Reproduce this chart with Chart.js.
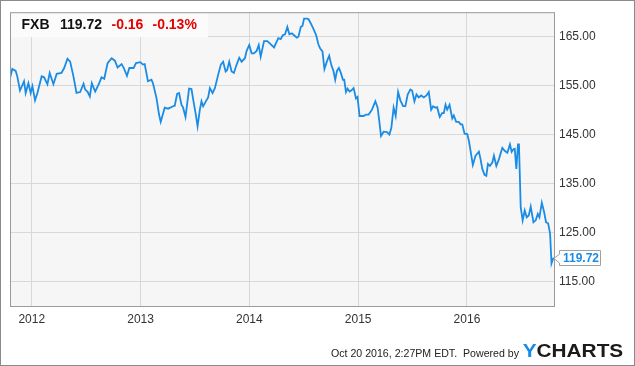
<!DOCTYPE html>
<html><head><meta charset="utf-8">
<script src="https://cdn.jsdelivr.net/npm/chart.js@4"></script>
<style>html,body{margin:0;padding:0;background:#fff;}canvas{display:block;}</style>
</head><body>
<canvas id="c" width="635" height="366"></canvas>
<script>
// Time in decimal years (Oct 20 2011 .. Oct 20 2016)
const dates = [
2011.800,2011.821,2011.852,2011.867,2011.892,2011.929,2011.944,2011.969,2011.990,2012.006,
2012.030,2012.052,2012.091,2012.113,2012.144,2012.165,2012.199,2012.229,2012.273,2012.298,
2012.328,2012.353,2012.383,2012.411,2012.445,2012.476,2012.491,2012.512,2012.534,2012.552,
2012.583,2012.620,2012.641,2012.666,2012.697,2012.734,2012.764,2012.789,2012.826,2012.844,
2012.875,2012.897,2012.936,2012.958,2012.998,2013.022,2013.038,2013.068,2013.100,2013.114,
2013.146,2013.170,2013.185,2013.222,2013.253,2013.299,2013.314,2013.336,2013.354,2013.376,
2013.391,2013.413,2013.446,2013.468,2013.489,2013.508,2013.524,2013.545,2013.560,2013.575,
2013.600,2013.621,2013.637,2013.662,2013.683,2013.713,2013.738,2013.759,2013.782,2013.796,
2013.815,2013.837,2013.858,2013.883,2013.907,2013.929,2013.959,2013.975,2013.999,2014.021,
2014.042,2014.067,2014.086,2014.104,2014.135,2014.165,2014.190,2014.227,2014.266,2014.288,
2014.307,2014.328,2014.349,2014.368,2014.390,2014.411,2014.436,2014.451,2014.473,2014.488,
2014.503,2014.528,2014.543,2014.565,2014.589,2014.614,2014.635,2014.651,2014.672,2014.690,
2014.712,2014.734,2014.752,2014.773,2014.789,2014.805,2014.823,2014.841,2014.860,2014.872,
2014.888,2014.902,2014.921,2014.936,2014.958,2014.980,2014.994,2015.013,2015.050,2015.072,
2015.096,2015.127,2015.158,2015.179,2015.194,2015.210,2015.234,2015.265,2015.287,2015.305,
2015.326,2015.345,2015.367,2015.388,2015.413,2015.434,2015.455,2015.480,2015.496,2015.517,
2015.536,2015.557,2015.579,2015.603,2015.628,2015.649,2015.671,2015.689,2015.711,2015.726,
2015.750,2015.772,2015.787,2015.803,2015.818,2015.840,2015.865,2015.879,2015.901,2015.925,
2015.941,2015.957,2015.978,2016.003,2016.018,2016.033,2016.054,2016.079,2016.110,2016.125,
2016.141,2016.162,2016.178,2016.193,2016.211,2016.233,2016.248,2016.270,2016.294,2016.325,
2016.347,2016.371,2016.395,2016.411,2016.427,2016.439,2016.454,2016.469,2016.478,2016.494,
2016.512,2016.531,2016.549,2016.568,2016.586,2016.611,2016.632,2016.651,2016.666,2016.688,
2016.709,2016.727,2016.746,2016.764,2016.777,2016.792,2016.800
];
const prices = [
156.5,158.4,158.0,156.9,154.0,155.9,153.5,155.5,153.5,154.9,
152.0,153.5,156.9,156.7,155.3,157.6,155.3,157.4,157.6,158.6,
160.5,159.9,156.9,153.5,153.7,155.4,154.2,153.8,152.8,155.5,
153.8,155.5,156.7,156.4,159.6,160.6,160.1,158.7,159.4,158.7,
157.0,158.6,158.6,159.6,159.8,159.3,159.4,155.9,156.2,155.5,
152.5,149.1,147.6,150.5,150.3,150.8,150.9,153.3,153.5,151.1,
150.5,148.6,154.4,154.3,151.5,149.1,146.7,150.1,151.8,150.8,
151.8,152.6,154.5,153.5,154.5,157.2,159.3,159.9,157.9,158.2,
159.9,157.9,157.6,159.3,160.7,159.9,160.6,162.1,163.3,161.6,
161.6,162.1,163.3,160.9,164.1,164.1,163.6,162.8,164.7,164.5,
165.3,165.5,167.0,165.5,165.7,165.3,164.8,165.0,167.0,167.2,
168.7,168.7,168.6,167.7,166.6,165.3,163.4,162.6,162.0,158.4,
159.9,161.1,159.3,158.0,156.2,158.0,158.6,157.6,156.2,156.2,
153.7,154.4,153.8,154.0,154.5,152.4,152.7,148.8,148.8,149.1,
149.1,150.1,151.8,150.5,147.8,144.7,145.6,145.5,145.0,146.4,
150.5,148.8,153.7,152.0,150.8,150.8,153.2,154.2,154.0,151.8,
153.2,152.6,153.0,152.6,153.0,153.7,150.1,150.8,150.5,150.6,
148.6,149.4,149.4,151.1,150.1,151.1,148.3,148.9,147.6,147.6,
147.1,147.1,145.2,145.1,143.7,141.7,138.8,140.7,141.5,140.0,
138.0,136.8,136.6,139.0,138.6,139.3,140.7,138.6,140.0,142.3,
141.7,141.3,143.0,141.5,142.0,142.1,138.0,143.0,143.0,130.2,
127.5,129.5,128.1,128.5,130.3,127.1,127.5,128.8,128.1,131.1,
129.2,127.1,126.9,124.8,118.7,119.7,119.72
];
const yearTicks = [2012, 2013, 2014, 2015, 2016];
const priceTicks = [115, 125, 135, 145, 155, 165];
const headerTexts = ['FXB', '119.72', '-0.16', '-0.13%'];
const footerText = 'Oct 20 2016, 2:27PM EDT.  Powered by';

const FONT = '"Liberation Sans", Arial, sans-serif';
const BLUE = '#1a8ce6';

const decor = {
  id: 'decor',
  beforeDraw(chart) {
    const ctx = chart.ctx, a = chart.chartArea;
    ctx.save();
    ctx.fillStyle = '#ffffff';
    ctx.fillRect(0, 0, chart.width, chart.height);
    ctx.fillStyle = '#f6f6f6';
    ctx.fillRect(a.left, a.top, a.right - a.left, a.bottom - a.top);
    ctx.restore();
  },
  beforeDatasetsDraw(chart) {
    const ctx = chart.ctx, a = chart.chartArea;
    ctx.save();
    ctx.fillStyle = '#fbfbfb';
    ctx.fillRect(a.left + 1, a.top + 1, 197, 24);
    ctx.font = 'bold 14px ' + FONT;
    ctx.textBaseline = 'alphabetic';
    const xs = [21.5, 60, 111.5, 152.5];
    const cols = ['#111', '#111', '#e60000', '#e60000'];
    headerTexts.forEach((t, i) => { ctx.fillStyle = cols[i]; ctx.fillText(t, xs[i], 29); });
    ctx.restore();
  },
  afterDraw(chart) {
    const ctx = chart.ctx, a = chart.chartArea;
    const ys = chart.scales.y;
    ctx.save();
    ctx.strokeStyle = '#9a9a9a';
    ctx.lineWidth = 1;
    ctx.strokeRect(a.left + 0.5, a.top + 0.5, a.right - a.left, a.bottom - a.top);
    ctx.strokeStyle = '#8a8a8a';
    ctx.strokeRect(0.5, 0.5, chart.width - 1, chart.height - 1);
    const last = prices[prices.length - 1];
    const py = Math.round(ys.getPixelForValue(last));
    const bx = 559.5, bw = 41, bh = 15, by = py - 7.5;
    ctx.beginPath();
    ctx.moveTo(bx, by);
    ctx.lineTo(bx + bw, by);
    ctx.lineTo(bx + bw, by + bh);
    ctx.lineTo(bx, by + bh);
    ctx.lineTo(bx, py + 5);
    ctx.lineTo(a.right, py + 0.5);
    ctx.lineTo(bx, py - 4);
    ctx.closePath();
    ctx.fillStyle = '#ffffff';
    ctx.fill();
    ctx.strokeStyle = '#a0a0a0';
    ctx.stroke();
    ctx.fillStyle = BLUE;
    ctx.font = 'bold 12px ' + FONT;
    ctx.textBaseline = 'middle';
    ctx.fillText(last.toFixed(2), 563, py + 0.5);
    ctx.textBaseline = 'alphabetic';
    ctx.font = '11px ' + FONT;
    ctx.fillStyle = '#222';
    ctx.textAlign = 'right';
    ctx.fillText(footerText, 519, 357, 188);
    ctx.textAlign = 'left';
    ctx.font = 'bold 19px ' + FONT;
    const full = 'YCHARTS';
    const w = ctx.measureText(full).width;
    const target = 100.5;
    ctx.translate(522.7, 357);
    ctx.scale(target / w, 1);
    ctx.fillStyle = '#1a8ce6';
    ctx.fillText('Y', 0, 0);
    const yw = ctx.measureText('Y').width;
    ctx.fillStyle = '#1b1b1b';
    ctx.fillText('CHARTS', yw, 0);
    ctx.restore();
  }
};

new Chart(document.getElementById('c'), {
  type: 'line',
  data: {
    datasets: [{
      data: dates.map((t, i) => ({ x: t, y: prices[i] })),
      borderColor: BLUE,
      borderWidth: 1.8,
      pointRadius: 0,
      tension: 0,
      fill: false
    }]
  },
  options: {
    responsive: false,
    animation: false,
    devicePixelRatio: 1,
    layout: { padding: { left: 10, top: 10, right: 0, bottom: 0 } },
    plugins: { legend: { display: false }, tooltip: { enabled: false } },
    scales: {
      x: {
        type: 'linear',
        min: 2011.8,
        max: 2016.8,
        afterBuildTicks: s => { s.ticks = yearTicks.map(v => ({ value: v })); },
        afterFit: s => { s.height = 60; },
        ticks: {
          callback: v => String(v),
          font: { family: FONT, size: 12 },
          color: '#333',
          padding: 6,
          maxRotation: 0,
          autoSkip: false
        },
        grid: { color: '#d8d8d8', drawTicks: false, lineWidth: 1 },
        border: { display: false }
      },
      y: {
        position: 'right',
        min: 110,
        max: 170,
        afterBuildTicks: s => { s.ticks = priceTicks.map(v => ({ value: v })); },
        afterFit: s => { s.width = 81; },
        ticks: {
          callback: v => v.toFixed(2),
          font: { family: FONT, size: 12 },
          color: '#333',
          padding: 5,
          autoSkip: false
        },
        grid: { color: '#d8d8d8', drawTicks: false, lineWidth: 1 },
        border: { display: false }
      }
    }
  },
  plugins: [decor]
});
</script>
</body></html>
